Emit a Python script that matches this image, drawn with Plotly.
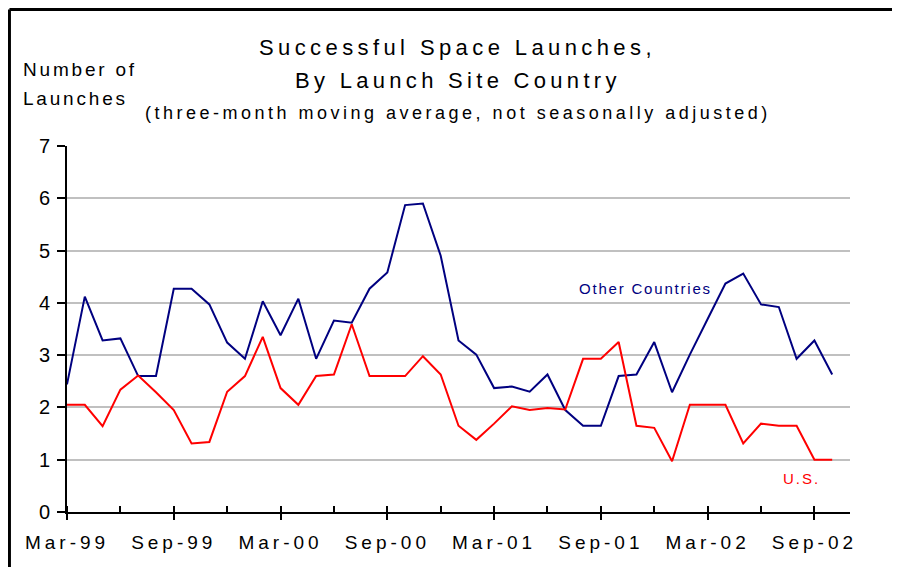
import plotly.graph_objects as go

# monthly points, three-month moving average
months = [
    "Mar-99", "Apr-99", "May-99", "Jun-99", "Jul-99", "Aug-99", "Sep-99", "Oct-99",
    "Nov-99", "Dec-99", "Jan-00", "Feb-00", "Mar-00", "Apr-00", "May-00", "Jun-00",
    "Jul-00", "Aug-00", "Sep-00", "Oct-00", "Nov-00", "Dec-00", "Jan-01", "Feb-01",
    "Mar-01", "Apr-01", "May-01", "Jun-01", "Jul-01", "Aug-01", "Sep-01", "Oct-01",
    "Nov-01", "Dec-01", "Jan-02", "Feb-02", "Mar-02", "Apr-02", "May-02", "Jun-02",
    "Jul-02", "Aug-02", "Sep-02", "Oct-02",
]
other_countries = [
    2.44, 4.12, 3.28, 3.32, 2.60, 2.60, 4.27, 4.27, 3.97, 3.24, 2.93, 4.03, 3.38, 4.08, 2.93, 3.66,
    3.62, 4.27, 4.58, 5.87, 5.90, 4.90, 3.28, 3.01, 2.37, 2.40, 2.30, 2.63, 1.95, 1.65, 1.65,
    2.60, 2.63, 3.25, 2.29, 3.01, 3.69, 4.37, 4.56, 3.97, 3.92, 2.93, 3.28, 2.63,
]
us = [
    2.05, 2.05, 1.64, 2.34, 2.61, 2.29, 1.95, 1.31, 1.34, 2.30, 2.60, 3.35, 2.37, 2.05, 2.60, 2.63,
    3.59, 2.60, 2.60, 2.60, 2.98, 2.63, 1.65, 1.38, 1.69, 2.02, 1.95, 1.99, 1.96, 2.93, 2.93,
    3.25, 1.65, 1.61, 0.97, 2.05, 2.05, 2.05, 1.31, 1.69, 1.65, 1.65, 1.00, 1.00,
]
tick_labels = ["Mar-99", "Sep-99", "Mar-00", "Sep-00", "Mar-01", "Sep-01", "Mar-02", "Sep-02"]

FONT = "Arial, Liberation Sans, sans-serif"
NAVY = "#000080"
RED = "#ff0000"


def spaced(txt, px):
    return f'<span style="letter-spacing:{px}px">{txt}</span>'


x = list(range(len(months)))
major = [months.index(m) for m in tick_labels]
minor = list(range(0, len(months), 3))

fig = go.Figure()
fig.add_trace(go.Scatter(x=x, y=other_countries, mode="lines", name="Other Countries",
                         line=dict(color=NAVY, width=2)))
fig.add_trace(go.Scatter(x=x, y=us, mode="lines", name="U.S.",
                         line=dict(color=RED, width=2)))

# page body has an 8px margin, so the figure is sized to fit inside it
fig.update_layout(
    width=884, height=559,
    margin=dict(l=59, r=42, t=138, b=55),
    paper_bgcolor="white", plot_bgcolor="white",
    showlegend=False,
    font=dict(family=FONT, color="black", size=19),
    xaxis=dict(
        range=[0, 44], showgrid=False, zeroline=False,
        showline=True, linecolor="black", linewidth=2,
        tickmode="array", tickvals=major,
        ticktext=[spaced(t, 4) for t in tick_labels],
        ticks="outside", ticklen=6, tickwidth=2, tickcolor="black",
        minor=dict(tickmode="array", tickvals=minor, ticks="inside",
                   ticklen=6, tickwidth=1.5, tickcolor="black"),
        tickfont=dict(size=19),
        ticklabelstandoff=6,
    ),
    yaxis=dict(
        range=[0, 7], dtick=1, showgrid=True, gridcolor="#c0c0c0", gridwidth=2,
        zeroline=False, showline=True, linecolor="black", linewidth=2,
        ticks="outside", ticklen=8, tickwidth=2, tickcolor="black",
        tickfont=dict(size=20), ticklabelstandoff=3,
    ),
)

# frame: only the top and left edges fall inside the picture
frame = dict(type="line", xref="paper", yref="paper", layer="below",
             line=dict(color="black", width=3))
fig.add_shape(x0=-0.0735, x1=1.2, y0=1.373, y1=1.373, **frame)
fig.add_shape(x0=-0.0735, x1=-0.0735, y0=-0.3, y1=1.373, **frame)

title_lines = [
    ("Successful Space Launches,", 22, 4.4, 1.270),
    ("By Launch Site Country", 22, 4.3, 1.180),
    ("(three-month moving average, not seasonally adjusted)", 18, 3.5, 1.090),
]
for txt, size, sp, yy in title_lines:
    fig.add_annotation(xref="paper", yref="paper", x=0.499, y=yy, text=spaced(txt, sp),
                       showarrow=False, xanchor="center", yanchor="middle",
                       font=dict(size=size, color="black"))

for txt, yy in [("Number of", 1.208), ("Launches", 1.131)]:
    fig.add_annotation(xref="paper", yref="paper", x=-0.0588, y=yy, text=spaced(txt, 2.8),
                       showarrow=False, xanchor="left", yanchor="middle",
                       font=dict(size=19, color="black"))

fig.add_annotation(x=32.5, y=4.28, text=spaced("Other Countries", 1.8), showarrow=False,
                   font=dict(size=15, color=NAVY))
fig.add_annotation(x=41.26, y=0.65, text=spaced("U.S.", 2), showarrow=False,
                   font=dict(size=15, color=RED))

fig.write_html("out.html")
